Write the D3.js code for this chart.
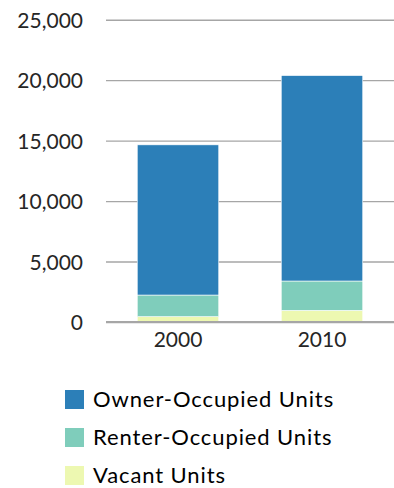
<!DOCTYPE html>
<html>
<head>
<meta charset="utf-8">
<script src="https://cdn.jsdelivr.net/npm/d3@7"></script>
<style>
  html, body { margin: 0; padding: 0; background: #fff; }
  svg { display: block; font-family: Lato, "Open Sans", sans-serif; }
</style>
</head>
<body>
<svg id="chart" width="394" height="488"></svg>
<script>
// Housing units by occupancy, 2000 vs 2010
const years = ["2000", "2010"];
const vacant = [440, 960];
const renterOccupied = [1790, 2430];
const ownerOccupied = [12420, 16990];
const yTicks = [0, 5000, 10000, 15000, 20000, 25000];

const seriesNames = ["Vacant Units", "Renter-Occupied Units", "Owner-Occupied Units"];
const seriesColors = ["#edf8b1", "#7fcdbb", "#2c7fb8"];
const legendOrder = ["Owner-Occupied Units", "Renter-Occupied Units", "Vacant Units"];

const rows = years.map((yr, i) => ({
  year: yr,
  "Vacant Units": vacant[i],
  "Renter-Occupied Units": renterOccupied[i],
  "Owner-Occupied Units": ownerOccupied[i]
}));

const svg = d3.select("#chart");
const plotLeft = 106, plotRight = 394, plotTop = 19.7, plotBottom = 322;

const x = d3.scaleBand().domain(years).range([plotLeft, plotRight])
  .paddingInner(0.434).paddingOuter(0.217);
const y = d3.scaleLinear().domain([0, 25000]).range([plotBottom, plotTop]);
const color = d3.scaleOrdinal().domain(seriesNames).range(seriesColors);

// Gridlines and value labels
const yAxis = svg.append("g")
  .attr("transform", `translate(${plotLeft},0)`)
  .call(d3.axisLeft(y).tickValues(yTicks).tickSize(-(plotRight - plotLeft))
    .tickPadding(23).tickFormat(d3.format(",")));
yAxis.select(".domain").remove();
yAxis.selectAll(".tick line").attr("stroke", "#a6a6a6").attr("stroke-width", 1.4);
yAxis.selectAll(".tick text")
  .attr("fill", "#262626").attr("font-size", 21).attr("dy", "0.36em")
  .attr("font-family", "Lato, 'Open Sans', sans-serif");

// Stacked bars
const stack = d3.stack().keys(seriesNames)(rows);
svg.append("g").selectAll("g").data(stack).join("g")
  .attr("fill", d => color(d.key))
  .selectAll("rect").data(d => d).join("rect")
  .attr("x", d => x(d.data.year))
  .attr("width", x.bandwidth())
  .attr("y", d => y(d[1]))
  .attr("height", d => y(d[0]) - y(d[1]))
  .attr("stroke", "#fff").attr("stroke-width", 0.6);

// Baseline
svg.append("line")
  .attr("x1", plotLeft).attr("x2", plotRight)
  .attr("y1", y(0)).attr("y2", y(0))
  .attr("stroke", "#a6a6a6").attr("stroke-width", 2);

// Category labels
const xAxis = svg.append("g")
  .attr("transform", `translate(0,${y(0)})`)
  .call(d3.axisBottom(x).tickSize(0).tickPadding(10));
xAxis.select(".domain").remove();
xAxis.selectAll(".tick text")
  .attr("fill", "#262626").attr("font-size", 21)
  .attr("font-family", "Lato, 'Open Sans', sans-serif");

// Legend
const legend = svg.append("g").attr("transform", "translate(65,390)");
const item = legend.selectAll("g").data(legendOrder).join("g")
  .attr("transform", (d, i) => `translate(0,${i * 38})`);
item.append("rect").attr("width", 19).attr("height", 19).attr("fill", d => color(d));
item.append("text")
  .attr("x", 28).attr("y", 9.5).attr("dy", "0.36em")
  .attr("font-size", 22).attr("letter-spacing", 0.9).attr("fill", "#000")
  .text(d => d);
</script>
</body>
</html>
